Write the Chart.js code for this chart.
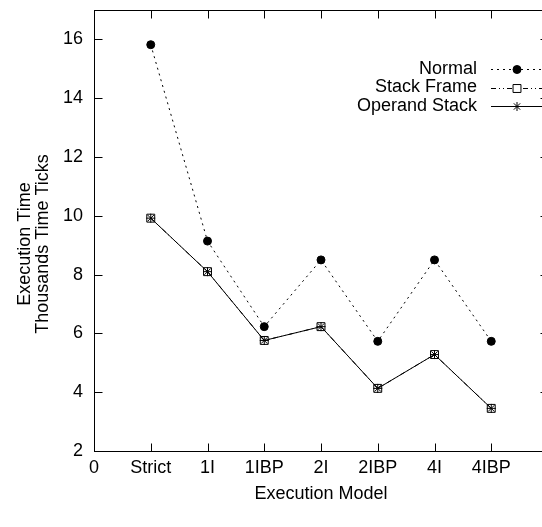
<!DOCTYPE html>
<html>
<head>
<meta charset="utf-8">
<script src="https://cdn.jsdelivr.net/npm/chart.js@4"></script>
<style>
html,body{margin:0;padding:0;background:#fff;overflow:hidden;}
#wrap{width:560px;height:527px;}
</style>
</head>
<body>
<div id="wrap"><canvas id="c" width="560" height="527"></canvas></div>
<script>
// ---- data ----
const xTickLabels = ['0', 'Strict', '1I', '1IBP', '2I', '2IBP', '4I', '4IBP', ''];
const categories = ['Strict', '1I', '1IBP', '2I', '2IBP', '4I', '4IBP'];
const normalTimes = [15.82, 9.14, 6.23, 8.50, 5.73, 8.50, 5.73];
const stackFrameTimes = [9.92, 8.10, 5.76, 6.23, 4.13, 5.28, 3.45];
const operandStackTimes = [9.92, 8.10, 5.76, 6.23, 4.13, 5.28, 3.45];
const yTickValues = [2, 4, 6, 8, 10, 12, 14, 16];
const seriesNames = ['Normal', 'Stack Frame', 'Operand Stack'];

const FONT = 'Liberation Sans, Arial, Helvetica, sans-serif';
const FS = 18;

function toPoints(vals) {
  return vals.map((v, i) => ({ x: xTickLabels.indexOf(categories[i]), y: v }));
}

const styles = [
  { dash: [2, 4], pointStyle: 'circle', radius: 4, fill: true },
  { dash: [5, 3, 1, 3, 1, 3], pointStyle: 'rect', radius: 5.6, fill: false },
  { dash: [], pointStyle: 'star', radius: 4.5, fill: false }
];

const gnuplotDecor = {
  id: 'gnuplotDecor',
  afterDraw(chart) {
    const ctx = chart.ctx;
    const a = chart.chartArea;
    const xs = chart.scales.x, ys = chart.scales.y;
    const L = Math.round(a.left) + 0.5, R = Math.round(a.right) + 0.5;
    const T = Math.round(a.top) + 0.5, B = Math.round(a.bottom) + 0.5;
    ctx.save();
    ctx.strokeStyle = '#000';
    ctx.lineWidth = 1;
    ctx.setLineDash([]);
    ctx.strokeRect(L, T, R - L, B - T);
    const tl = 8;
    ctx.beginPath();
    yTickValues.forEach(v => {
      const y = Math.round(ys.getPixelForValue(v)) + 0.5;
      ctx.moveTo(L, y); ctx.lineTo(L + tl, y);
      ctx.moveTo(R, y); ctx.lineTo(R - tl, y);
    });
    xTickLabels.forEach((lab, i) => {
      const x = Math.round(xs.getPixelForValue(i)) + 0.5;
      ctx.moveTo(x, B); ctx.lineTo(x, B - tl);
      ctx.moveTo(x, T); ctx.lineTo(x, T + tl);
    });
    ctx.stroke();

    // axis titles
    ctx.fillStyle = '#000';
    ctx.font = FS + 'px ' + FONT;
    ctx.textAlign = 'center';
    ctx.textBaseline = 'middle';
    ctx.fillText('Execution Model', (a.left + a.right) / 2, 494);
    ctx.save();
    ctx.translate(25, 244);
    ctx.rotate(-Math.PI / 2);
    ctx.fillText('Execution Time', 0, 0);
    ctx.fillText('Thousands Time Ticks', 0, 18);
    ctx.restore();

    // legend
    const rows = [69, 87.5, 106];
    chart.data.datasets.forEach((ds, i) => {
      const y = rows[i];
      ctx.textAlign = 'right';
      ctx.fillStyle = '#000';
      ctx.fillText(ds.label, 477, y);
      ctx.beginPath();
      ctx.setLineDash(styles[i].dash);
      ctx.moveTo(491, Math.round(y) + 0.5);
      ctx.lineTo(548, Math.round(y) + 0.5);
      ctx.stroke();
      ctx.setLineDash([]);
      ctx.fillStyle = styles[i].fill ? '#000' : '#fff';
      Chart.helpers.drawPoint(ctx, {
        pointStyle: styles[i].pointStyle,
        radius: styles[i].radius,
        borderWidth: 1,
        rotation: 0
      }, 517, Math.round(y) + 0.5);
    });
    ctx.restore();
  }
};

const ctx = document.getElementById('c').getContext('2d');
new Chart(ctx, {
  type: 'line',
  data: {
    datasets: [normalTimes, stackFrameTimes, operandStackTimes].map((vals, i) => ({
      label: seriesNames[i],
      data: toPoints(vals),
      borderColor: '#000',
      backgroundColor: styles[i].fill ? '#000' : 'rgba(0,0,0,0)',
      borderWidth: 1,
      borderDash: styles[i].dash,
      pointStyle: styles[i].pointStyle,
      pointRadius: styles[i].radius,
      pointBorderWidth: 1,
      pointBorderColor: '#000',
      pointBackgroundColor: styles[i].fill ? '#000' : 'rgba(0,0,0,0)',
      tension: 0,
      fill: false,
      order: [2, 1, 0][i]
    }))
  },
  options: {
    responsive: false,
    animation: false,
    events: [],
    layout: { padding: { top: 10, right: 12, left: 0, bottom: 0 } },
    plugins: { legend: { display: false }, tooltip: { enabled: false } },
    scales: {
      x: {
        type: 'linear',
        min: 0, max: 8,
        afterFit(s) { s.height = 76; s.paddingLeft = 0; s.paddingRight = 0; },
        afterBuildTicks(s) { s.ticks = xTickLabels.map((l, i) => ({ value: i })); },
        grid: { display: false, drawTicks: false },
        border: { display: false },
        ticks: {
          autoSkip: false, maxRotation: 0, padding: 6,
          color: '#000', font: { family: FONT, size: FS },
          callback: (v) => xTickLabels[v]
        }
      },
      y: {
        type: 'linear',
        min: 2, max: 17,
        afterFit(s) { s.width = 94; s.paddingTop = 0; s.paddingBottom = 0; },
        afterBuildTicks(s) { s.ticks = yTickValues.map(v => ({ value: v })); },
        grid: { display: false, drawTicks: false },
        border: { display: false },
        ticks: {
          padding: 11, color: '#000', font: { family: FONT, size: FS },
          callback: (v) => String(v)
        }
      }
    }
  },
  plugins: [gnuplotDecor]
});
</script>
</body>
</html>
